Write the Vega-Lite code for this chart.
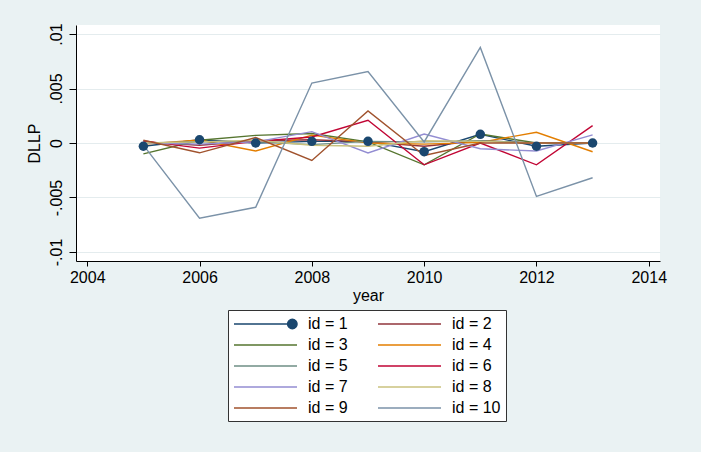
{
  "$schema": "https://vega.github.io/schema/vega-lite/v6.json",
  "width": 584,
  "height": 236,
  "autosize": {"type": "none"},
  "padding": {"left": 76, "top": 25, "right": 41, "bottom": 191},
  "background": "#eaf2f3",
  "config": {"view": {"fill": "white", "stroke": null}, "font": "Liberation Sans"},
  "data": {"values": [
    {"id": 1, "year": 2005, "DLLP": -0.0003}, {"id": 1, "year": 2006, "DLLP": 0.0003}, {"id": 1, "year": 2007, "DLLP": 0.0}, {"id": 1, "year": 2008, "DLLP": 0.00015}, {"id": 1, "year": 2009, "DLLP": 0.00015}, {"id": 1, "year": 2010, "DLLP": -0.0008}, {"id": 1, "year": 2011, "DLLP": 0.0008}, {"id": 1, "year": 2012, "DLLP": -0.0003}, {"id": 1, "year": 2013, "DLLP": 0.0},
    {"id": 2, "year": 2005, "DLLP": 0.0001}, {"id": 2, "year": 2006, "DLLP": -0.0002}, {"id": 2, "year": 2007, "DLLP": 0.0002}, {"id": 2, "year": 2008, "DLLP": 0.0003}, {"id": 2, "year": 2009, "DLLP": 0.0001}, {"id": 2, "year": 2010, "DLLP": -0.0003}, {"id": 2, "year": 2011, "DLLP": 0.0002}, {"id": 2, "year": 2012, "DLLP": 0.0}, {"id": 2, "year": 2013, "DLLP": 0.0},
    {"id": 3, "year": 2005, "DLLP": -0.001}, {"id": 3, "year": 2006, "DLLP": 0.00025}, {"id": 3, "year": 2007, "DLLP": 0.0007}, {"id": 3, "year": 2008, "DLLP": 0.00087}, {"id": 3, "year": 2009, "DLLP": 0.0001}, {"id": 3, "year": 2010, "DLLP": -0.002}, {"id": 3, "year": 2011, "DLLP": 0.00083}, {"id": 3, "year": 2012, "DLLP": 0.0}, {"id": 3, "year": 2013, "DLLP": 0.0},
    {"id": 4, "year": 2005, "DLLP": -0.0001}, {"id": 4, "year": 2006, "DLLP": 0.00028}, {"id": 4, "year": 2007, "DLLP": -0.00073}, {"id": 4, "year": 2008, "DLLP": 0.00072}, {"id": 4, "year": 2009, "DLLP": 0.0}, {"id": 4, "year": 2010, "DLLP": -0.0001}, {"id": 4, "year": 2011, "DLLP": 0.00006}, {"id": 4, "year": 2012, "DLLP": 0.00098}, {"id": 4, "year": 2013, "DLLP": -0.0008},
    {"id": 5, "year": 2005, "DLLP": 0.0}, {"id": 5, "year": 2006, "DLLP": 0.0001}, {"id": 5, "year": 2007, "DLLP": 0.0001}, {"id": 5, "year": 2008, "DLLP": -0.00015}, {"id": 5, "year": 2009, "DLLP": 0.00015}, {"id": 5, "year": 2010, "DLLP": 0.0001}, {"id": 5, "year": 2011, "DLLP": 0.0002}, {"id": 5, "year": 2012, "DLLP": 0.0}, {"id": 5, "year": 2013, "DLLP": 0.0},
    {"id": 6, "year": 2005, "DLLP": 0.0002}, {"id": 6, "year": 2006, "DLLP": -0.00047}, {"id": 6, "year": 2007, "DLLP": 0.00015}, {"id": 6, "year": 2008, "DLLP": 0.00055}, {"id": 6, "year": 2009, "DLLP": 0.00209}, {"id": 6, "year": 2010, "DLLP": -0.002}, {"id": 6, "year": 2011, "DLLP": 0.0}, {"id": 6, "year": 2012, "DLLP": -0.002}, {"id": 6, "year": 2013, "DLLP": 0.0016},
    {"id": 7, "year": 2005, "DLLP": 0.0}, {"id": 7, "year": 2006, "DLLP": -0.0001}, {"id": 7, "year": 2007, "DLLP": 0.0001}, {"id": 7, "year": 2008, "DLLP": 0.00104}, {"id": 7, "year": 2009, "DLLP": -0.00092}, {"id": 7, "year": 2010, "DLLP": 0.00082}, {"id": 7, "year": 2011, "DLLP": -0.00053}, {"id": 7, "year": 2012, "DLLP": -0.00073}, {"id": 7, "year": 2013, "DLLP": 0.00075},
    {"id": 8, "year": 2005, "DLLP": 0.0}, {"id": 8, "year": 2006, "DLLP": 0.0001}, {"id": 8, "year": 2007, "DLLP": 0.00025}, {"id": 8, "year": 2008, "DLLP": -0.0002}, {"id": 8, "year": 2009, "DLLP": -0.0003}, {"id": 8, "year": 2010, "DLLP": 0.0002}, {"id": 8, "year": 2011, "DLLP": 0.00015}, {"id": 8, "year": 2012, "DLLP": 0.0}, {"id": 8, "year": 2013, "DLLP": 0.0},
    {"id": 9, "year": 2005, "DLLP": 0.00025}, {"id": 9, "year": 2006, "DLLP": -0.0009}, {"id": 9, "year": 2007, "DLLP": 0.0005}, {"id": 9, "year": 2008, "DLLP": -0.0016}, {"id": 9, "year": 2009, "DLLP": 0.00294}, {"id": 9, "year": 2010, "DLLP": -0.00115}, {"id": 9, "year": 2011, "DLLP": 0.0}, {"id": 9, "year": 2012, "DLLP": 0.0}, {"id": 9, "year": 2013, "DLLP": 0.0},
    {"id": 10, "year": 2005, "DLLP": -0.0002}, {"id": 10, "year": 2006, "DLLP": -0.0069}, {"id": 10, "year": 2007, "DLLP": -0.0059}, {"id": 10, "year": 2008, "DLLP": 0.0055}, {"id": 10, "year": 2009, "DLLP": 0.00656}, {"id": 10, "year": 2010, "DLLP": 0.0001}, {"id": 10, "year": 2011, "DLLP": 0.00877}, {"id": 10, "year": 2012, "DLLP": -0.0049}, {"id": 10, "year": 2013, "DLLP": -0.00319}
  ]},
  "layer": [
    {
      "mark": {"type": "line", "strokeWidth": 1.4, "clip": true},
      "encoding": {
        "x": {
          "field": "year", "type": "quantitative",
          "scale": {"domain": [2003.8, 2014.2], "nice": false, "zero": false},
          "axis": {
            "values": [2004, 2006, 2008, 2010, 2012, 2014], "format": "d", "title": "year",
            "grid": false, "tickSize": 5, "labelFontSize": 16, "titleFontSize": 16,
            "labelPadding": 3, "titlePadding": 2, "domainColor": "#000", "tickColor": "#000",
            "labelColor": "#000", "titleColor": "#000", "titleFontWeight": "normal", "labelFlush": false
          }
        },
        "y": {
          "field": "DLLP", "type": "quantitative",
          "scale": {"domain": [-0.01083, 0.01083], "nice": false, "zero": false},
          "axis": {
            "values": [-0.01, -0.005, 0, 0.005, 0.01], "title": "DLLP",
            "grid": true, "gridColor": "#e4ecee", "gridWidth": 1,
            "tickSize": 7, "labelAngle": 270, "labelAlign": "center", "labelBaseline": "bottom",
            "labelPadding": 5, "labelFontSize": 16, "titleFontSize": 16, "titlePadding": 6,
            "domainColor": "#000", "tickColor": "#000", "labelColor": "#000", "titleColor": "#000",
            "titleFontWeight": "normal", "labelFlush": false,
            "labelExpr": "datum.value > 0.0075 ? '.01' : datum.value > 0.0025 ? '.005' : datum.value > -0.0025 ? '0' : datum.value > -0.0075 ? '-.005' : '-.01'"
          }
        },
        "color": {
          "field": "id", "type": "nominal",
          "scale": {
            "domain": [1, 2, 3, 4, 5, 6, 7, 8, 9, 10],
            "range": ["#1a476f", "#90353b", "#55752f", "#e37e00", "#6e8e84", "#c10534", "#938dd2", "#cac27e", "#a0522d", "#7b92a8"]
          },
          "legend": {
            "orient": "none", "legendX": 152, "legendY": 285, "columns": 2, "direction": "horizontal", "title": null,
            "labelExpr": "'id = ' + datum.label", "labelFontSize": 16, "labelColor": "#000",
            "labelOffset": 57, "symbolSize": 256, "symbolType": "M-1,0H6.875", "symbolStrokeWidth": 1.5,
            "columnPadding": 27, "rowPadding": 4, "padding": 5,
            "strokeColor": "#333", "fillColor": "white",
            "encode": {
              "symbols": {
                "update": {
                  "shape": {"signal": "datum.value == 1 ? 'M-1,0H5.7M5.7,0A0.59,0.59 0 1,0 6.88,0A0.59,0.59 0 1,0 5.7,0Z' : 'M-1,0H6.875'"},
                  "fill": {"signal": "datum.value == 1 ? '#1a476f' : 'transparent'"}
                }
              }
            }
          }
        }
      }
    },
    {
      "transform": [{"filter": "datum.id == 1"}],
      "mark": {"type": "point", "filled": true, "size": 90, "color": "#1a476f", "opacity": 1},
      "encoding": {
        "x": {"field": "year", "type": "quantitative"},
        "y": {"field": "DLLP", "type": "quantitative"}
      }
    }
  ]
}
